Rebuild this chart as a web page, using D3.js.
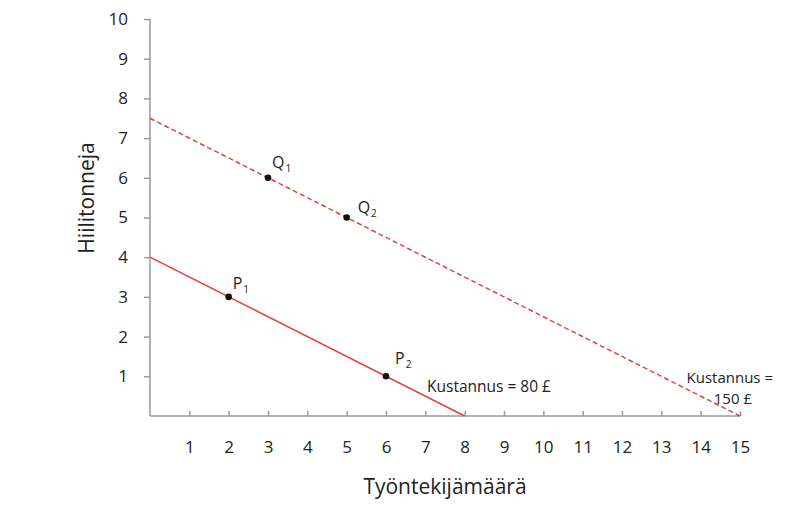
<!DOCTYPE html>
<html lang="fi">
<head>
    <meta charset="UTF-8">
    <title>Hiilitonneja ja työntekijät</title>
    <script src="https://cdn.jsdelivr.net/npm/d3@7"></script>
    <style>
        body { margin: 0; background: #fff; }
        text { font-family: "Open Sans", sans-serif; fill: #222; }
    </style>
</head>
<body>
<div id="chart"></div>
<script>
    // data
    const xTicks = [1, 2, 3, 4, 5, 6, 7, 8, 9, 10, 11, 12, 13, 14, 15];
    const yTicks = [1, 2, 3, 4, 5, 6, 7, 8, 9, 10];
    const cost80Line = [[0, 4], [8, 0]];
    const cost150Line = [[0, 7.5], [15, 0]];
    const pointNames = ["P", "P", "Q", "Q"];
    const pointSubs = ["1", "2", "1", "2"];
    const pointX = [2, 6, 3, 5];
    const pointY = [3, 1, 6, 5];

    // label nudges (px) for each point, same order as above
    const labelDx = [4, 9, 4, 11];
    const labelDy = [-8, -12, -10, -5];

    const width = 809, height = 508;
    const margin = {top: 19, right: 69, bottom: 91, left: 150};

    const svg = d3.select("#chart").append("svg")
        .attr("width", width)
        .attr("height", height);

    const x = d3.scaleLinear().domain([0, 15]).range([margin.left, width - margin.right]);
    const y = d3.scaleLinear().domain([0, 10]).range([height - margin.bottom - 1, margin.top]);

    const axisColor = "#9a9a9a";

    // y axis
    const yAxis = svg.append("g")
        .attr("transform", `translate(${x(0)},0)`)
        .call(d3.axisLeft(y).tickValues(yTicks).tickSize(6).tickPadding(16).tickSizeOuter(0));
    yAxis.select(".domain").attr("stroke", axisColor).attr("stroke-width", 1.5)
        .attr("d", `M0,${y(0)}V${y(10)}`);
    yAxis.selectAll(".tick line").attr("stroke", axisColor).attr("stroke-width", 1.5);
    yAxis.selectAll(".tick text").attr("font-size", 17).attr("fill", "#222")
        .attr("font-family", "Open Sans, sans-serif");

    // x axis
    const xAxis = svg.append("g")
        .attr("transform", `translate(0,${y(0)})`)
        .call(d3.axisBottom(x).tickValues(xTicks).tickSize(-5).tickPadding(25).tickSizeOuter(0));
    xAxis.select(".domain").attr("stroke", axisColor).attr("stroke-width", 1.5)
        .attr("d", `M${x(0)},0H${x(15)}`);
    xAxis.selectAll(".tick line").attr("stroke", axisColor).attr("stroke-width", 1.5);
    xAxis.selectAll(".tick text").attr("font-size", 17).attr("fill", "#222")
        .attr("font-family", "Open Sans, sans-serif");

    // axis titles
    svg.append("text")
        .attr("x", 445).attr("y", 494)
        .attr("text-anchor", "middle")
        .attr("font-size", 21)
        .text("Työntekijämäärä");

    svg.append("text")
        .attr("transform", `translate(94,198) rotate(-90)`)
        .attr("text-anchor", "middle")
        .attr("font-size", 21)
        .text("Hiilitonneja");

    // lines
    const line = d3.line().x(d => x(d[0])).y(d => y(d[1]));

    svg.append("path")
        .datum(cost150Line)
        .attr("d", line)
        .attr("fill", "none")
        .attr("stroke", "#e0443c")
        .attr("stroke-width", 1.5)
        .attr("stroke-dasharray", "5,3");

    svg.append("path")
        .datum(cost80Line)
        .attr("d", line)
        .attr("fill", "none")
        .attr("stroke", "#e0443c")
        .attr("stroke-width", 1.5);

    // points
    const pts = pointX.map((v, i) => ({
        x: v, y: pointY[i], name: pointNames[i], sub: pointSubs[i],
        dx: labelDx[i], dy: labelDy[i]
    }));

    svg.selectAll("circle.pt")
        .data(pts)
        .enter().append("circle")
        .attr("class", "pt")
        .attr("cx", d => x(d.x))
        .attr("cy", d => y(d.y))
        .attr("r", 3.3)
        .attr("fill", "#111");

    const lbl = svg.selectAll("text.pt")
        .data(pts)
        .enter().append("text")
        .attr("class", "pt")
        .attr("x", d => x(d.x) + d.dx)
        .attr("y", d => y(d.y) + d.dy)
        .attr("font-size", 16);
    lbl.append("tspan").text(d => d.name);
    lbl.append("tspan").attr("font-size", 10).attr("dx", 1).attr("dy", 4).text(d => d.sub);

    // cost labels
    svg.append("text")
        .attr("x", 427).attr("y", 392)
        .attr("font-size", 15.5)
        .text("Kustannus = 80 £");

    svg.append("text")
        .attr("x", 773).attr("y", 383)
        .attr("text-anchor", "end")
        .attr("font-size", 15)
        .text("Kustannus =");
    svg.append("text")
        .attr("x", 752).attr("y", 404)
        .attr("text-anchor", "end")
        .attr("font-size", 15)
        .text("150 £");
</script>
</body>
</html>
